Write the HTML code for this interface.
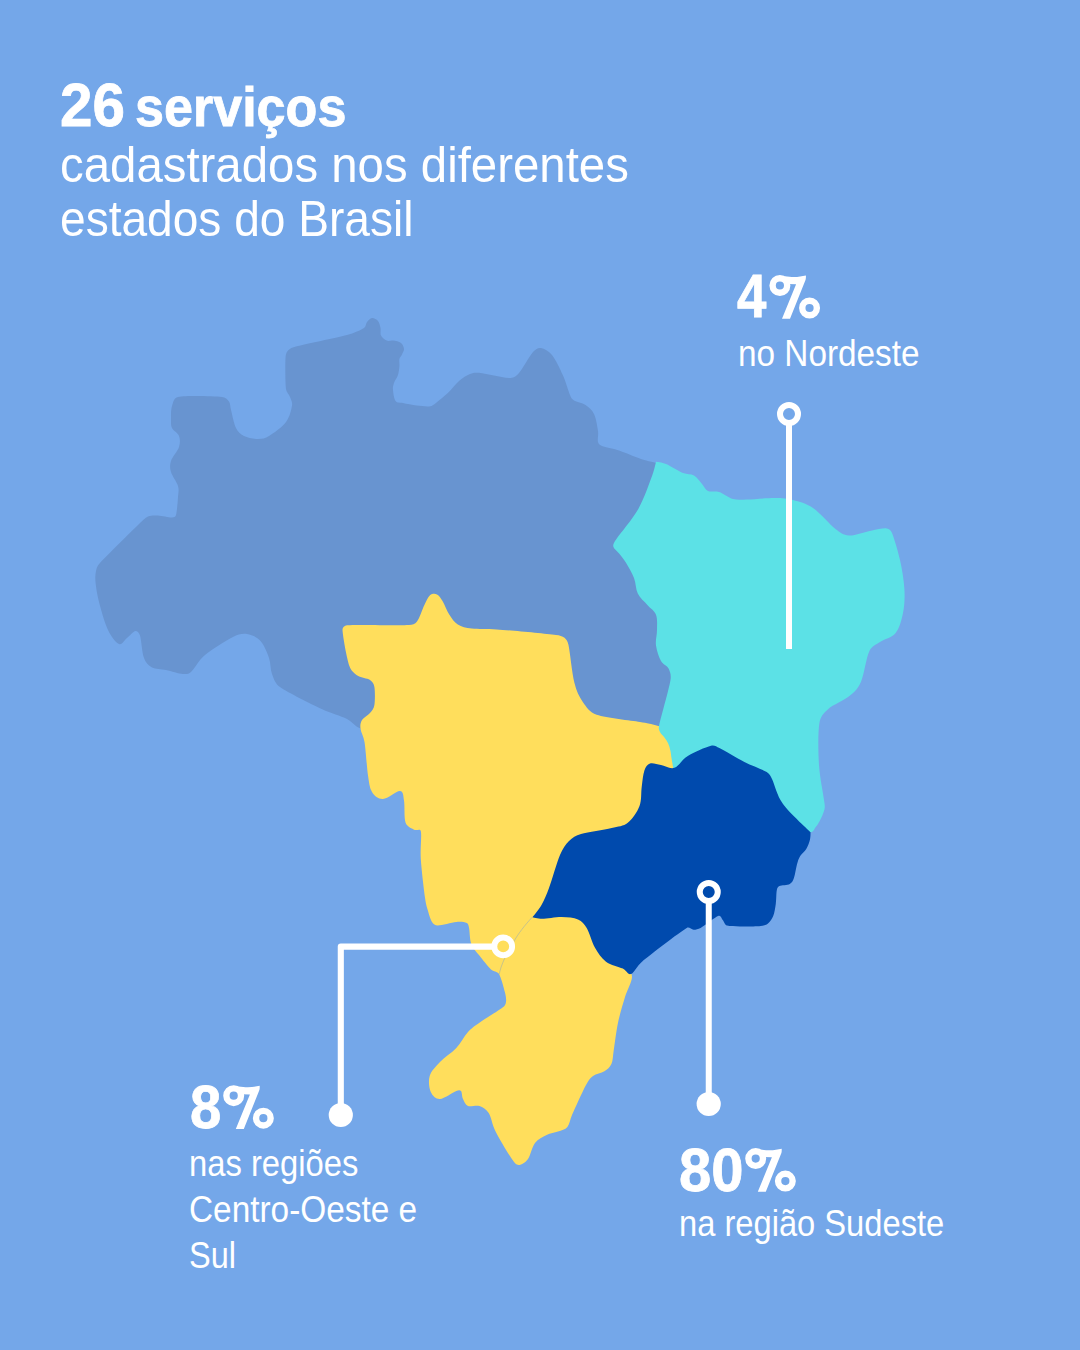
<!DOCTYPE html>
<html><head><meta charset="utf-8">
<style>
html,body{margin:0;padding:0;}
body{width:1080px;height:1350px;background:#74A7E9;position:relative;overflow:hidden;font-family:"Liberation Sans",sans-serif;color:#fff;}
svg{position:absolute;left:0;top:0;}
.t{position:absolute;white-space:nowrap;transform-origin:0 0;line-height:1;}
.b{font-weight:bold;-webkit-text-stroke:0.8px #fff;}
</style></head><body>
<svg width="1080" height="1350" viewBox="0 0 1080 1350">
<path fill="#6894D0" d="M172.0 406.0 C173.2 402.3 173.7 397.8 178.0 397.0 C186.3 395.5 213.5 396.2 222.0 397.0 C225.3 397.3 227.5 399.3 229.0 401.5 C230.5 403.7 230.1 406.6 231.0 410.0 C232.2 414.4 233.8 423.7 236.0 428.0 C238.0 432.0 240.3 434.2 244.0 436.0 C247.7 437.8 253.8 439.0 258.0 439.0 C262.2 439.0 265.1 438.4 269.0 436.0 C273.7 433.2 282.2 427.1 286.0 422.0 C289.8 416.9 291.3 409.7 292.0 405.5 C292.6 402.1 291.0 399.8 290.0 397.0 C289.0 394.2 286.4 392.6 286.0 389.0 C285.2 382.5 285.2 364.4 285.5 358.0 C285.7 354.8 286.2 352.4 288.0 350.5 C289.8 348.6 292.5 347.4 296.0 346.5 C305.8 343.9 335.7 338.1 347.0 335.0 C354.1 333.1 360.7 330.2 364.0 328.0 C366.2 326.5 365.7 323.7 367.0 322.0 C368.3 320.3 370.2 318.2 372.0 318.0 C373.8 317.8 376.6 319.3 378.0 321.0 C379.4 322.7 380.0 325.6 380.5 328.0 C381.0 330.4 380.0 333.5 381.0 335.6 C382.0 337.7 384.7 339.8 386.7 340.6 C388.7 341.4 390.6 340.2 393.0 340.6 C395.4 341.0 399.2 341.6 401.0 343.0 C402.8 344.4 403.8 347.1 404.0 349.0 C404.2 350.9 402.8 352.7 402.0 354.4 C401.2 356.1 399.8 356.9 399.4 359.0 C399.0 361.1 399.7 363.9 399.4 366.7 C399.1 369.5 398.7 372.9 397.8 375.6 C396.9 378.3 394.8 380.6 394.0 383.0 C393.2 385.4 392.7 387.2 393.0 390.0 C393.3 393.0 393.9 398.8 395.6 401.0 C397.3 403.2 400.0 402.3 403.0 403.0 C406.5 403.8 412.4 405.0 416.7 405.6 C421.0 406.2 426.1 406.6 429.0 406.4 C431.1 406.3 432.2 405.7 434.0 404.4 C437.1 402.2 443.6 396.9 447.8 393.0 C452.0 389.1 455.3 384.2 459.0 381.0 C462.7 377.8 466.7 375.4 470.0 374.0 C473.3 372.6 475.4 372.6 479.0 372.8 C483.0 373.1 488.8 374.6 494.0 375.5 C499.2 376.4 506.3 378.4 510.5 378.0 C514.4 377.6 516.4 376.0 519.0 373.0 C522.8 368.7 529.3 356.2 533.0 352.0 C535.4 349.3 537.8 347.5 541.0 348.0 C544.2 348.5 548.7 350.9 552.0 355.0 C555.7 359.6 560.0 368.8 563.0 375.5 C566.0 382.2 568.2 390.8 570.0 395.0 C571.1 397.5 571.7 399.0 574.0 400.5 C576.6 402.2 582.2 402.8 585.5 405.0 C588.8 407.2 591.9 409.7 594.0 414.0 C596.1 418.3 597.3 426.3 598.0 431.0 C598.6 435.4 597.3 439.5 598.0 442.0 C598.6 444.2 599.9 445.2 602.0 446.0 C605.5 447.4 612.5 448.3 619.0 450.5 C625.5 452.7 634.7 456.9 641.0 459.0 C647.3 461.1 657.0 463.0 657.0 463.0 C657.0 463.0 695.6 491.8 700.0 520.0 C707.2 566.2 716.7 703.3 700.0 740.0 C683.4 776.4 640.0 740.0 600.0 740.0 C550.0 740.0 439.9 741.9 400.0 740.0 C383.6 739.2 369.3 732.1 360.5 728.6 C354.3 726.2 352.9 722.0 347.0 719.0 C340.5 715.7 331.5 713.7 321.7 709.0 C310.5 703.7 288.3 692.8 280.0 687.0 C275.0 683.5 273.8 678.8 272.0 674.0 C270.2 669.2 270.9 663.5 269.0 658.0 C267.1 652.5 264.2 645.0 260.5 641.0 C256.8 637.0 251.6 634.7 247.0 634.0 C242.4 633.3 238.1 634.4 233.0 637.0 C226.0 640.5 212.0 649.2 205.0 655.0 C198.2 660.6 194.7 668.8 191.0 672.0 C188.5 674.2 186.3 674.3 183.0 674.0 C178.8 673.7 171.2 671.1 166.0 670.0 C160.8 668.9 155.7 669.5 152.0 667.5 C148.3 665.5 145.7 662.7 144.0 658.0 C142.0 652.7 141.4 640.0 140.0 635.5 C139.2 633.1 137.7 630.6 135.5 631.0 C133.3 631.4 129.8 635.8 127.0 638.0 C124.2 640.2 122.2 645.3 119.0 644.0 C115.8 642.7 111.1 636.4 108.0 630.0 C104.7 623.0 101.1 610.0 99.0 602.0 C97.0 594.1 96.0 587.2 95.5 582.0 C95.1 577.6 95.3 574.1 96.0 571.0 C96.7 567.9 97.3 565.9 99.5 563.5 C106.8 555.5 131.9 530.8 140.0 523.0 C143.0 520.1 145.0 517.8 148.0 516.5 C151.0 515.2 154.0 515.3 158.0 515.5 C162.0 515.7 169.0 517.6 172.0 517.5 C173.9 517.4 175.5 516.8 176.0 515.0 C177.0 511.6 177.7 501.8 178.0 497.0 C178.3 492.6 179.2 490.2 178.0 486.0 C176.8 481.8 172.2 476.2 171.0 472.0 C169.8 467.8 169.7 465.2 171.0 461.0 C172.3 456.8 177.7 451.2 179.0 447.0 C180.3 442.8 180.2 439.2 179.0 436.0 C177.8 432.8 173.3 430.8 172.0 428.0 C170.7 425.2 171.0 422.6 171.0 419.0 C171.0 415.3 170.8 409.7 172.0 406.0Z"/>
<path fill="#FFDE5C" d="M342.5 630.0 C342.3 627.4 344.4 625.4 347.0 625.2 C358.1 624.4 397.3 625.6 409.0 625.0 C412.5 624.8 414.9 624.3 417.0 621.5 C419.6 618.2 422.2 609.4 424.4 605.0 C426.4 601.0 427.9 597.1 430.0 595.3 C432.1 593.5 434.9 593.4 437.0 594.4 C439.1 595.4 440.7 598.1 442.5 601.0 C444.6 604.4 446.8 610.8 449.4 614.7 C451.9 618.6 454.1 622.1 457.8 624.4 C461.5 626.7 465.9 627.9 471.7 628.6 C478.2 629.4 486.7 628.6 496.7 629.4 C510.8 630.5 544.7 633.6 556.0 635.0 C559.6 635.4 562.4 636.1 564.5 637.8 C566.6 639.5 567.8 641.8 568.5 645.0 C570.1 652.5 572.0 673.3 574.4 682.8 C576.4 690.9 579.1 696.7 582.8 702.0 C586.5 707.3 589.6 712.2 596.7 714.7 C606.2 718.0 631.2 720.4 640.0 721.9 C643.9 722.6 646.1 722.9 649.6 723.7 C653.1 724.5 661.0 726.5 661.0 726.5 C661.0 726.5 683.7 750.1 690.0 770.0 C696.5 790.6 708.3 823.3 700.0 850.0 C691.7 876.7 652.5 911.3 640.0 930.0 C632.1 941.7 626.3 954.3 625.0 962.0 C623.9 968.3 632.0 970.6 632.0 976.4 C632.0 982.2 627.3 989.3 625.0 997.0 C622.7 1004.7 619.9 1013.8 618.0 1022.7 C616.1 1031.6 614.8 1043.6 613.7 1050.5 C612.8 1055.9 613.0 1060.5 611.4 1064.0 C609.8 1067.5 607.5 1069.3 604.4 1071.3 C601.3 1073.3 596.1 1073.7 593.0 1076.0 C589.9 1078.3 588.2 1081.0 586.0 1085.0 C582.5 1091.5 575.1 1108.0 572.0 1115.0 C569.9 1119.7 569.7 1124.2 567.4 1126.9 C565.1 1129.7 561.5 1130.2 558.0 1131.5 C554.5 1132.8 550.4 1133.1 546.6 1135.0 C542.8 1136.9 538.1 1139.0 535.0 1143.0 C531.9 1147.0 530.7 1155.3 528.0 1159.0 C525.4 1162.5 521.5 1165.0 518.8 1165.0 C516.1 1165.0 514.0 1162.0 511.9 1159.0 C508.0 1153.4 499.5 1139.2 495.6 1131.5 C492.0 1124.4 491.4 1117.2 488.7 1113.0 C486.2 1109.1 482.8 1107.2 479.4 1106.0 C475.9 1104.8 470.7 1107.2 468.0 1106.0 C465.3 1104.8 464.2 1101.5 463.0 1099.0 C461.8 1096.5 462.1 1092.3 461.0 1091.0 C459.9 1089.7 458.1 1090.3 456.3 1091.0 C452.8 1092.3 444.2 1098.8 440.0 1099.0 C435.8 1099.2 432.5 1095.8 430.8 1092.0 C429.1 1088.2 428.2 1081.0 429.7 1076.0 C431.2 1071.0 435.6 1066.7 440.0 1062.0 C444.4 1057.3 451.6 1053.0 456.3 1048.0 C461.0 1043.0 464.1 1036.2 468.0 1032.0 C471.9 1027.8 474.6 1026.1 479.4 1022.7 C485.2 1018.6 498.2 1011.1 502.6 1007.6 C504.7 1006.0 505.6 1004.4 506.0 1001.9 C506.4 999.4 505.9 996.2 505.0 992.6 C503.8 988.0 501.3 977.9 499.0 974.0 C497.1 970.8 493.7 971.9 491.0 969.4 C487.7 966.3 482.7 959.8 479.4 955.6 C476.1 951.4 473.0 948.6 471.3 944.0 C469.6 939.4 469.8 931.3 469.0 927.8 C468.5 925.7 468.6 923.9 466.7 923.0 C464.6 922.0 460.5 921.6 456.3 922.0 C451.5 922.4 441.9 925.5 437.8 925.5 C435.1 925.5 433.4 924.3 432.0 922.0 C430.3 919.2 428.6 913.0 427.4 909.0 C426.2 905.0 425.6 902.3 425.0 897.8 C423.9 889.5 421.5 870.1 420.8 859.0 C420.1 847.9 421.9 835.9 420.8 831.0 C420.2 828.3 416.4 831.0 414.0 829.7 C411.5 828.3 407.0 826.9 405.6 822.8 C403.9 817.9 404.9 805.9 404.0 800.6 C403.3 796.5 403.5 791.3 400.0 791.0 C396.5 790.7 387.7 798.8 383.0 799.0 C378.3 799.2 374.5 795.9 372.0 792.0 C369.5 788.1 369.0 782.3 368.0 775.6 C366.8 767.3 365.8 749.8 364.5 742.0 C363.6 736.5 360.9 732.3 360.5 728.6 C360.1 725.1 360.4 722.6 362.0 720.0 C363.6 717.4 367.9 715.5 370.0 713.0 C372.1 710.5 373.8 708.6 374.4 705.0 C375.1 700.7 375.1 691.2 374.4 687.0 C373.8 683.7 372.7 681.8 370.0 680.0 C367.2 678.1 361.2 678.1 357.8 675.8 C354.4 673.5 351.0 670.9 349.4 666.0 C346.8 658.4 342.9 636.8 342.5 630.0Z"/>
<path fill="#5CE1E6" d="M656.0 461.7 C656.0 461.7 662.2 462.4 666.0 464.0 C670.5 465.9 678.3 471.1 683.0 473.0 C687.2 474.7 690.8 473.7 694.0 475.5 C697.2 477.3 699.7 481.4 702.0 484.0 C704.3 486.6 705.2 489.7 708.0 491.0 C710.8 492.3 714.8 490.7 719.0 492.0 C723.2 493.3 728.3 497.8 733.0 499.0 C737.7 500.2 741.4 499.6 747.0 499.5 C754.1 499.3 767.8 497.9 775.5 498.0 C782.5 498.1 786.8 498.3 793.0 500.0 C799.2 501.7 805.9 503.2 813.0 508.0 C820.1 512.8 829.5 524.4 835.5 529.0 C840.3 532.6 843.1 535.2 849.0 535.5 C854.9 535.8 864.7 531.9 871.0 530.7 C877.2 529.5 883.2 528.0 886.7 528.4 C889.5 528.7 890.9 530.4 892.0 533.0 C894.2 538.3 897.9 550.7 900.0 560.0 C902.1 569.3 903.9 580.2 904.4 589.0 C904.9 597.8 904.5 605.7 903.0 613.0 C901.5 620.3 899.4 628.2 895.6 633.0 C891.8 637.8 884.4 639.0 880.0 642.0 C875.6 645.0 871.8 646.0 869.4 651.0 C866.2 657.6 864.2 674.3 861.0 681.7 C858.2 688.2 855.4 691.1 850.0 695.6 C844.5 700.2 832.9 704.8 827.8 709.4 C823.0 713.7 820.4 716.7 819.4 723.0 C817.9 732.3 818.2 752.2 819.0 765.0 C819.8 777.8 823.1 792.6 824.0 800.0 C824.5 803.7 825.2 805.8 824.5 809.3 C823.8 812.8 821.3 817.8 819.8 820.7 C818.5 823.4 817.2 825.1 815.7 827.0 C814.2 828.9 813.4 832.5 810.5 832.1 C801.2 830.9 778.4 825.4 760.0 820.0 C741.6 814.6 714.4 808.4 700.0 800.0 C686.0 791.9 673.5 769.5 673.5 769.5 C673.5 769.5 672.0 761.2 671.5 758.1 C671.0 755.1 671.0 753.2 670.4 750.7 C669.8 748.2 669.1 745.5 668.1 743.3 C667.1 741.1 665.8 739.3 664.4 737.4 C663.0 735.5 660.9 733.9 660.0 732.0 C659.1 730.1 658.5 728.4 659.0 726.0 C660.8 717.3 668.9 689.6 670.5 680.0 C671.3 675.4 670.2 671.8 668.6 668.6 C667.0 665.4 663.1 664.8 661.0 661.0 C658.9 657.1 656.7 650.7 656.0 645.5 C655.3 640.3 657.0 635.1 657.0 630.0 C657.0 624.9 657.6 618.9 656.0 614.7 C654.4 610.5 650.4 608.5 647.4 605.0 C644.4 601.5 640.0 598.0 637.8 593.5 C635.6 589.0 636.0 583.1 634.0 578.0 C632.0 572.9 628.5 566.8 626.0 562.7 C623.5 558.7 621.0 556.0 618.9 553.3 C616.8 550.6 613.8 548.7 613.3 546.4 C612.8 544.1 614.4 541.9 616.1 539.4 C620.3 533.1 632.3 519.5 638.3 508.9 C644.3 498.3 649.2 483.5 652.2 475.6 C654.2 470.2 656.0 461.7 656.0 461.7Z"/>
<path fill="#004AAD" d="M674.4 767.8 C678.9 766.3 681.7 759.7 687.8 756.0 C693.9 752.3 705.7 747.0 711.0 745.7 C714.4 744.8 716.3 746.5 719.4 748.0 C725.0 750.7 736.5 758.0 744.4 762.0 C752.3 766.0 762.1 769.2 766.7 772.0 C769.7 773.8 770.4 775.9 772.0 779.0 C774.7 784.3 776.6 795.2 783.0 804.0 C789.4 812.9 810.5 832.1 810.5 832.1 C810.5 832.1 810.7 836.6 810.0 839.4 C809.3 842.2 808.0 845.9 806.4 848.7 C804.8 851.5 801.8 853.4 800.2 856.0 C798.6 858.6 798.0 860.9 797.0 864.3 C796.0 867.9 795.2 874.5 794.0 877.8 C793.0 880.6 792.2 882.6 789.8 884.0 C787.4 885.4 781.6 885.0 779.4 886.0 C777.6 886.9 777.2 888.3 776.8 890.2 C776.2 893.2 776.4 899.4 775.8 903.7 C775.2 908.0 774.5 912.8 773.2 916.1 C771.9 919.4 770.1 921.8 768.0 923.4 C765.9 925.0 763.8 925.7 760.7 926.0 C756.0 926.5 745.6 926.6 740.0 926.5 C734.8 926.4 729.9 926.7 727.0 925.6 C724.4 924.6 724.2 921.6 722.8 920.0 C721.4 918.4 720.8 915.0 718.6 915.8 C714.9 917.1 704.8 925.7 700.6 928.0 C698.1 929.4 695.9 929.7 693.6 929.7 C691.3 929.7 689.1 926.5 686.7 928.0 C678.1 933.3 651.3 954.0 642.0 961.7 C636.9 965.9 634.2 972.9 631.0 974.0 C627.8 975.1 626.3 970.3 622.8 968.6 C618.6 966.6 610.6 965.2 606.0 961.7 C601.4 958.2 598.2 953.4 595.0 947.8 C591.8 942.2 589.5 932.7 586.7 928.0 C584.2 923.8 582.2 921.2 578.0 919.4 C573.8 917.6 567.7 917.1 561.7 917.0 C555.7 916.9 546.9 918.8 542.0 918.8 C538.1 918.8 532.4 917.2 532.4 917.2 C532.4 917.2 538.7 909.9 541.5 905.0 C544.3 900.1 546.4 895.0 549.0 888.0 C552.1 879.7 556.7 862.8 560.0 855.0 C562.6 848.9 565.5 844.5 569.0 841.0 C572.5 837.5 575.7 835.6 581.0 834.0 C588.1 831.8 603.9 829.9 611.7 828.0 C618.3 826.4 623.2 826.5 627.8 822.8 C632.4 819.1 637.2 812.0 639.5 806.0 C641.8 800.0 640.9 792.9 641.7 787.0 C642.5 781.1 643.0 774.5 644.4 770.6 C645.6 767.2 647.2 764.5 650.0 763.6 C652.8 762.7 656.9 764.3 661.0 765.0 C665.1 765.7 669.9 769.3 674.4 767.8Z"/>
<path d="M532.2 917.2 C525 925 518 934 514.4 940.6 C510 948 506.5 953 504.4 958.9 C502 964 500 970 499.2 974.4" fill="none" stroke="#8FA7B8" stroke-width="0.9" opacity="0.55"/>
<!-- nordeste marker -->
<rect x="786" y="421" width="6" height="228" fill="#ffffff"/>
<circle cx="789" cy="414" r="9" fill="none" stroke="#ffffff" stroke-width="6"/>
<!-- sudeste marker -->
<rect x="705.75" y="899" width="6" height="205" fill="#ffffff"/>
<circle cx="708.75" cy="892" r="9" fill="none" stroke="#ffffff" stroke-width="6"/>
<circle cx="708.7" cy="1104" r="12.1" fill="#ffffff"/>
<!-- centro-oeste marker -->
<path d="M340.8 1115 V946.6 H493" fill="none" stroke="#ffffff" stroke-width="6.1" stroke-linejoin="round"/>
<circle cx="503.2" cy="946.4" r="8.9" fill="none" stroke="#ffffff" stroke-width="5.9"/>
<circle cx="340.8" cy="1115" r="12.1" fill="#ffffff"/>
</svg>
<div class="t b" style="left:59.78px;top:75.1px;font-size:60.85px;transform:scaleX(0.9594);">26</div>
<div class="t b" style="left:135.31px;top:80.1px;font-size:55px;transform:scaleX(0.9468);">serviços</div>
<div class="t" style="left:59.81px;top:140.4px;font-size:50px;transform:scaleX(0.9475);">cadastrados nos diferentes</div>
<div class="t" style="left:59.86px;top:194.3px;font-size:50px;transform:scaleX(0.9217);">estados do Brasil</div>
<div class="t b" style="left:737.0px;top:265px;font-size:62px;transform:scaleX(0.8514);">4</div>
<div class="t" style="left:738.35px;top:335.6px;font-size:36px;transform:scaleX(0.9259);">no Nordeste</div>
<div class="t b" style="left:189.57px;top:1075.8px;font-size:61.7px;transform:scaleX(0.9129);">8</div>
<div class="t" style="left:189.48px;top:1146px;font-size:36px;transform:scaleX(0.9098);">nas regiões</div>
<div class="t" style="left:188.55px;top:1192.2px;font-size:36px;transform:scaleX(0.9267);">Centro-Oeste e</div>
<div class="t" style="left:188.6px;top:1237.8px;font-size:36px;transform:scaleX(0.9021);">Sul</div>
<div class="t b" style="left:679.12px;top:1138.9px;font-size:61.8px;transform:scaleX(0.9385);">80</div>
<div class="t" style="left:678.58px;top:1206.3px;font-size:36px;transform:scaleX(0.9076);">na região Sudeste</div>
<svg width="1080" height="1350" viewBox="0 0 1080 1350" style="position:absolute;left:0;top:0">
<defs><g id="pc">
<circle cx="10.4" cy="10.7" r="7.3" fill="none" stroke="#fff" stroke-width="6.4"/>
<circle cx="40.05" cy="33.2" r="7.3" fill="none" stroke="#fff" stroke-width="6.4"/>
<path fill="#fff" d="M12.5 43.9 L26.6 9.4 L18 9.2 L15 1.5 C24 2.9 30 2.3 36.4 0.8 C36.5 2.5 36.4 4 36.1 5 L20.5 43.9 Z"/>
</g></defs>
<use href="#pc" x="769.5" y="274.8"/>
<use href="#pc" x="223.3" y="1085"/>
<use href="#pc" x="745.3" y="1147.9"/>
</svg>
</body></html>
